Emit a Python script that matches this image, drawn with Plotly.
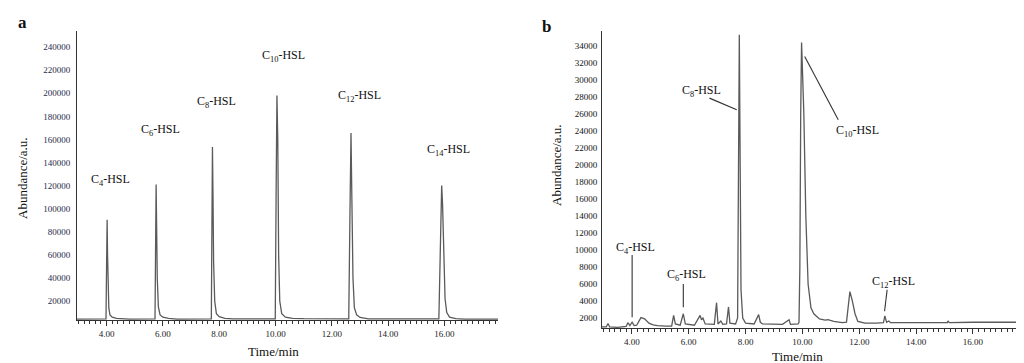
import plotly.graph_objects as go

# ---------------- data: panel a (standard mixture) ----------------
time_a = [2.95, 3.95, 3.98, 4.00, 4.02, 4.035, 4.05, 4.08, 4.12, 4.20, 4.35, 4.60, 4.80,
          5.72, 5.74, 5.76, 5.78, 5.80, 5.84, 5.90, 6.00, 6.20, 6.50,
          7.72, 7.74, 7.76, 7.78, 7.80, 7.84, 7.90, 8.00, 8.20, 8.50, 9.00, 9.10, 9.15,
          9.99, 10.02, 10.05, 10.08, 10.11, 10.15, 10.22, 10.35, 10.60, 11.00, 11.60,
          12.60, 12.64, 12.68, 12.71, 12.75, 12.80, 12.88, 13.00, 13.30,
          15.80, 15.84, 15.87, 15.90, 15.93, 15.97, 16.02, 16.08, 16.18, 16.40, 16.70, 17.90]
abund_a = [4300, 4300, 4500, 50000, 90500, 60000, 38000, 14000, 8000, 6000, 5000, 4500, 4300,
           4500, 60000, 121000, 80000, 40000, 15000, 8000, 6000, 5000, 4400,
           4500, 80000, 153500, 110000, 55000, 20000, 9000, 6500, 5000, 4600, 4400, 4800, 4400,
           4500, 110000, 198000, 160000, 60000, 20000, 9000, 6000, 5000, 4700, 4500,
           4500, 90000, 165500, 110000, 40000, 14000, 8000, 5800, 4600,
           4500, 60000, 113000, 120000, 105000, 55000, 22000, 10000, 6000, 4800, 4400, 4300]

# ---------------- data: panel b (sample) ----------------
time_b = [2.95, 3.10, 3.16, 3.22, 3.50, 3.80, 3.86, 3.93, 4.01, 4.08, 4.17, 4.32, 4.45, 4.60,
          4.75, 4.90, 5.20, 5.40, 5.47, 5.53, 5.70, 5.81, 5.88, 6.20, 6.40, 6.45, 6.50, 6.58,
          6.90, 6.98, 7.03, 7.13, 7.20, 7.33, 7.40, 7.45, 7.65, 7.72, 7.78, 7.81, 7.84, 7.90,
          8.00, 8.30, 8.46, 8.52, 8.60, 9.30, 9.53, 9.58, 9.85, 9.88, 9.91, 9.94, 9.97, 10.05,
          10.12, 10.20, 10.30, 10.40, 10.60, 10.80, 10.90, 11.10, 11.40, 11.55, 11.67, 11.75,
          11.85, 11.95, 12.20, 12.60, 12.85, 12.90, 12.96, 13.04, 13.10, 14.00, 15.10, 15.12,
          15.17, 16.00, 17.90]
abund_b = [950, 950, 1350, 950, 900, 1000, 1450, 1100, 1500, 1100, 1150, 2050, 1900, 1400,
           1200, 1100, 1050, 1050, 2300, 1300, 1150, 2500, 1300, 1150, 2300, 1800, 2000, 1300,
           1250, 3800, 1300, 1650, 1250, 1300, 3300, 1400, 1300, 2000, 35300, 15000, 5300, 2000,
           1400, 1300, 2400, 1500, 1300, 1250, 1800, 1250, 1300, 1500, 8000, 26000, 34400, 26000,
           14000, 6000, 3200, 2500, 1900, 1750, 1800, 1600, 1450, 1500, 5100, 4100,
           2500, 1600, 1400, 1400, 1450, 2250, 1500, 1650, 1450, 1450, 1450, 1650,
           1450, 1500, 1500]

tick_vals_a = [20000, 40000, 60000, 80000, 100000, 120000, 140000, 160000, 180000,
               200000, 220000, 240000]
tick_vals_b = [2000, 4000, 6000, 8000, 10000, 12000, 14000, 16000, 18000, 20000, 22000,
               24000, 26000, 28000, 30000, 32000, 34000]
x_ticks = [4, 6, 8, 10, 12, 14, 16]
x_labels = ["4.00", "6.00", "8.00", "10.00", "12.00", "14.00", "16.00"]

labels_a = ["C<sub>4</sub>-HSL", "C<sub>6</sub>-HSL", "C<sub>8</sub>-HSL",
            "C<sub>10</sub>-HSL", "C<sub>12</sub>-HSL", "C<sub>14</sub>-HSL"]
labels_b = ["C<sub>4</sub>-HSL", "C<sub>6</sub>-HSL", "C<sub>8</sub>-HSL",
            "C<sub>10</sub>-HSL", "C<sub>12</sub>-HSL"]

W, H = 1024, 363
def px(x):
    return x / W
def py(y):
    return 1 - y / H

FONT = "Liberation Serif"
LINE = "#5a5a5a"

fig = go.Figure()
fig.add_trace(go.Scatter(x=time_a, y=abund_a, mode="lines",
                         line=dict(color=LINE, width=1.3), xaxis="x", yaxis="y",
                         showlegend=False, hoverinfo="skip"))
fig.add_trace(go.Scatter(x=time_b, y=abund_b, mode="lines",
                         line=dict(color=LINE, width=1.3), xaxis="x2", yaxis="y2",
                         showlegend=False, hoverinfo="skip"))

xcommon = dict(range=[2.95, 17.9], tickvals=x_ticks, ticktext=x_labels,
               ticks="outside", ticklen=5, tickcolor="#333", showline=True,
               linecolor="#333", linewidth=1, showgrid=False, zeroline=False,
               automargin=False,
               tickfont=dict(family=FONT, size=9, color="#222"),
               minor=dict(dtick=0.2, tick0=0, ticks="outside", ticklen=3, tickcolor="#333"))

fig.update_layout(
    width=W, height=H, margin=dict(l=0, r=0, t=0, b=0),
    paper_bgcolor="white", plot_bgcolor="white",
    font=dict(family=FONT, size=12, color="#111"),
    xaxis=dict(domain=[px(69), px(490)], anchor="y", **xcommon),
    yaxis=dict(domain=[py(312.3), py(23)], anchor="x", range=[3300, 254000],
               tickvals=tick_vals_a, ticktext=[str(v) for v in tick_vals_a],
               ticks="", showline=True, linecolor="#333", automargin=False,
               showgrid=False, zeroline=False, ticklabelstandoff=4,
               tickfont=dict(family=FONT, size=9, color="#1f2c48")),
    xaxis2=dict(domain=[px(594), px(1019)], anchor="y2", **xcommon),
    yaxis2=dict(domain=[py(320), py(23)], anchor="x2", range=[825, 35740],
                tickvals=tick_vals_b, ticktext=[str(v) for v in tick_vals_b],
                ticks="", showline=True, linecolor="#333", automargin=False,
                showgrid=False, zeroline=False, ticklabelstandoff=2,
                tickfont=dict(family=FONT, size=9, color="#111")),
)

ann = []
def text(x, y, s, size=12, **kw):
    ann.append(dict(x=px(x), y=py(y), xref="paper", yref="paper", text=s,
                    showarrow=False, xanchor="center", yanchor="middle",
                    font=dict(family=FONT, size=size, color="#111"), **kw))

# panel letters
text(14, 15, "<b>a</b>", size=17)
text(538, 18, "<b>b</b>", size=17)
# axis titles
text(14, 170, "Abundance/a.u.", size=13, textangle=-90)
text(548, 157, "Abundance/a.u.", size=13, textangle=-90)
text(265, 343, "Time/min", size=13)
text(789, 348, "Time/min", size=13)

# peak labels panel a
pos_a = [(102, 172), (152, 122), (208, 94), (275, 48), (351, 88), (440, 142)]
for (x, y), s in zip(pos_a, labels_a):
    text(x, y, s, size=12)
# peak labels panel b
pos_b = [(627, 240), (678, 267), (693, 83), (849, 123), (885, 274)]
for (x, y), s in zip(pos_b, labels_b):
    text(x, y, s, size=12)

fig.update_layout(annotations=ann)

# pointer lines panel b (data coordinates)
pointers = [(4.01, 2100, 4.01, 9400), (5.81, 3260, 5.81, 6000),
            (6.73, 27850, 7.69, 26480), (11.26, 25300, 10.08, 32750),
            (12.98, 5325, 12.89, 2790)]
for x0, y0, x1, y1 in pointers:
    fig.add_shape(type="line", xref="x2", yref="y2", x0=x0, y0=y0, x1=x1, y1=y1,
                  line=dict(color="#333", width=1.1))

fig.write_html("out.html")
